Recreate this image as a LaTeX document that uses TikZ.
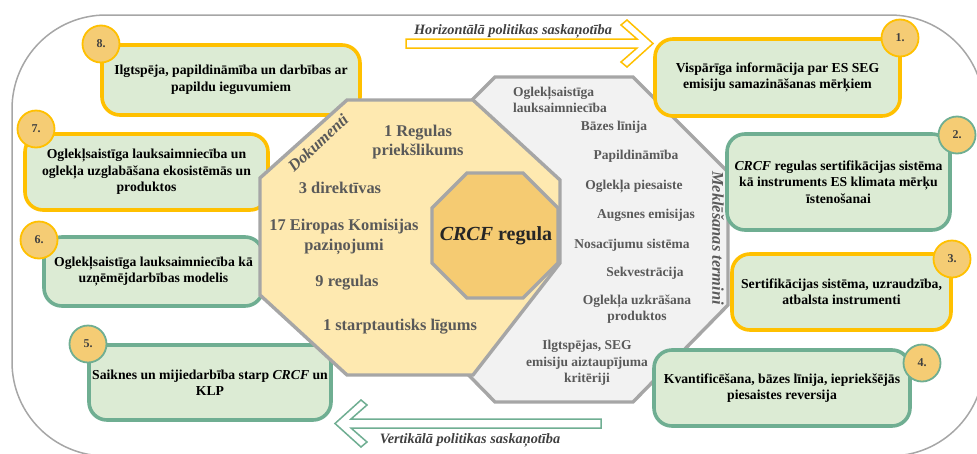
\documentclass[tikz,border=0pt]{standalone}
\usepackage{fontspec}
\setmainfont{Liberation Serif}

\definecolor{gold}{HTML}{FFC000}
\definecolor{teal}{HTML}{6FAE92}
\definecolor{boxfill}{HTML}{DCEBD4}
\definecolor{numfill}{HTML}{F5CC74}
\definecolor{octgray}{HTML}{A6A6A6}
\definecolor{docfill}{HTML}{FEE9B0}
\definecolor{termfill}{HTML}{F2F2F2}
\definecolor{corefill}{HTML}{F5CB72}
\definecolor{softtext}{HTML}{595959}
\definecolor{labeltext}{HTML}{404040}

\tikzset{
  box/.style={draw, line width=3.6pt, rounded corners=18pt, fill=boxfill,
    align=center, inner sep=0pt, text=black,
    font=\fontsize{13.7}{16.5}\selectfont\bfseries},
  ybox/.style={box, draw=gold},
  gbox/.style={box, draw=teal},
  num/.style={circle, fill=numfill, line width=1.8pt, minimum size=37pt,
    inner sep=0pt, text=labeltext, font=\fontsize{12}{14}\selectfont\bfseries},
  ynum/.style={num, draw=gold},
  gnum/.style={num, draw=teal},
  octagon/.style={draw=octgray, line width=3.4pt, line join=miter},
  docitem/.style={align=center, inner sep=0pt, text=softtext,
    font=\fontsize{16.4}{19.5}\selectfont\bfseries},
  termitem/.style={align=center, inner sep=0pt, text=softtext,
    font=\fontsize{13.5}{16.3}\selectfont\bfseries},
  sidelabel/.style={inner sep=0pt, text=softtext,
    font=\fontsize{16.4}{19}\selectfont\bfseries\itshape},
  flowlabel/.style={inner sep=0pt, anchor=base, text=labeltext,
    font=\fontsize{14.3}{17}\selectfont\bfseries\itshape},
  blockarrow/.style={fill=white, line width=1.5pt, line join=miter}
}

\begin{document}
\begin{tikzpicture}[x=1pt, y=-1pt]
\useasboundingbox (0,0) rectangle (977,453);

% frame
\draw[octgray, line width=1.5pt, rounded corners=94pt] (12,15) rectangle (984,456);

% policy coherence arrows
\draw[blockarrow, draw=gold]
  (406,39) -- (637,39) -- (621,25) -- (627,20) -- (653,43.5) -- (627,67)
  -- (621,62) -- (637,48) -- (406,48) -- cycle;
\node[flowlabel] (hlabel) at (513,34) {Horizontālā politikas saskaņotība};

\draw[blockarrow, draw=teal]
  (601,419) -- (351,419) -- (367,405) -- (361,400) -- (335,423.5) -- (361,447)
  -- (367,442) -- (351,428) -- (601,428) -- cycle;
\node[flowlabel] (vlabel) at (470,443) {Vertikālā politikas saskaņotība};

% search terms octagon
\draw[octagon, fill=termfill]
  (495,77) -- (633,77) -- (728,172) -- (728,305) -- (633,402) -- (495,402)
  -- (400,305) -- (400,172) -- cycle;

% right-hand themes
\node[ybox, minimum width=245pt, minimum height=77pt] (t1) at (777.5,77.5)
  {Vispārīga informācija par ES SEG\\emisiju samazināšanas mērķiem};
\node[gbox, minimum width=223pt, minimum height=96pt] (t2) at (838.5,182)
  {\textit{CRCF} regulas sertifikācijas sistēma\\kā instruments ES klimata mērķu\\īstenošanai};
\node[ybox, minimum width=219pt, minimum height=76pt] (t3) at (841.5,292)
  {Sertifikācijas sistēma, uzraudzība,\\atbalsta instrumenti};
\node[gbox, minimum width=256pt, minimum height=76pt] (t4) at (782,388)
  {Kvantificēšana, bāzes līnija, iepriekšējās\\piesaistes reversija};

% left-hand themes
\node[gbox, minimum width=242pt, minimum height=75pt] (t5) at (210,382.5)
  {Saiknes un mijiedarbība starp \textit{CRCF} un\\KLP};
\node[gbox, minimum width=219pt, minimum height=69pt] (t6) at (153.5,271.5)
  {Oglekļsaistīga lauksaimniecība kā\\uzņēmējdarbības modelis};
\node[ybox, minimum width=243pt, minimum height=76pt] (t7) at (146.5,172)
  {Oglekļsaistīga lauksaimniecība un\\oglekļa uzglabāšana ekosistēmās un\\produktos};
\node[ybox, minimum width=258pt, minimum height=70pt] (t8) at (231,80)
  {Ilgtspēja, papildināmība un darbības ar\\papildu ieguvumiem};

% theme numbers
\node[ynum] (n1) at (900,38) {1.};
\node[gnum] (n2) at (957,135) {2.};
\node[ynum] (n3) at (952,259) {3.};
\node[gnum] (n4) at (922,363) {4.};
\node[gnum] (n5) at (88,344) {5.};
\node[ynum] (n6) at (39,240) {6.};
\node[ynum] (n7) at (36,129) {7.};
\node[ynum] (n8) at (101,44) {8.};

% documents octagon
\draw[octagon, fill=docfill]
  (347,100) -- (473,100) -- (560,180) -- (560,263) -- (473,375) -- (347,375)
  -- (260,295) -- (260,178) -- cycle;

% core octagon
\draw[octagon, fill=corefill]
  (467,173) -- (523,173) -- (558,208) -- (558,263) -- (523,298) -- (467,298)
  -- (432,263) -- (432,208) -- cycle;
\node[inner sep=0pt, text=black!85, font=\fontsize{20}{24}\selectfont\bfseries]
  (core) at (496,236) {\textit{CRCF} regula};

% document counts
\node[sidelabel, rotate=43] (doclabel) at (318,143) {Dokumenti};
\node[docitem] (d1) at (418,142) {1 Regulas\\priekšlikums};
\node[docitem] (d2) at (340,188) {3 direktīvas};
\node[docitem] (d3) at (344,237) {17 Eiropas Komisijas\\paziņojumi};
\node[docitem] (d4) at (347,283) {9 regulas};
\node[docitem] (d5) at (400,327) {1 starptautisks līgums};

% search terms
\node[sidelabel, rotate=-90] (termlabel) at (718,238) {Meklēšanas termini};
\node[termitem, align=left, anchor=west] (s1) at (513,100) {Oglekļsaistīga\\lauksaimniecība};
\node[termitem] (s2) at (614,127) {Bāzes līnija};
\node[termitem] (s3) at (636,156) {Papildināmība};
\node[termitem] (s4) at (634,187) {Oglekļa piesaiste};
\node[termitem] (s5) at (646,215) {Augsnes emisijas};
\node[termitem] (s6) at (632,245) {Nosacījumu sistēma};
\node[termitem] (s7) at (645,273) {Sekvestrācija};
\node[termitem] (s8) at (637,309) {Oglekļa uzkrāšana\\produktos};
\node[termitem] (s9) at (587,363) {Ilgtspējas, SEG\\emisiju aiztaupījuma\\kritēriji};
\end{tikzpicture}
\end{document}
